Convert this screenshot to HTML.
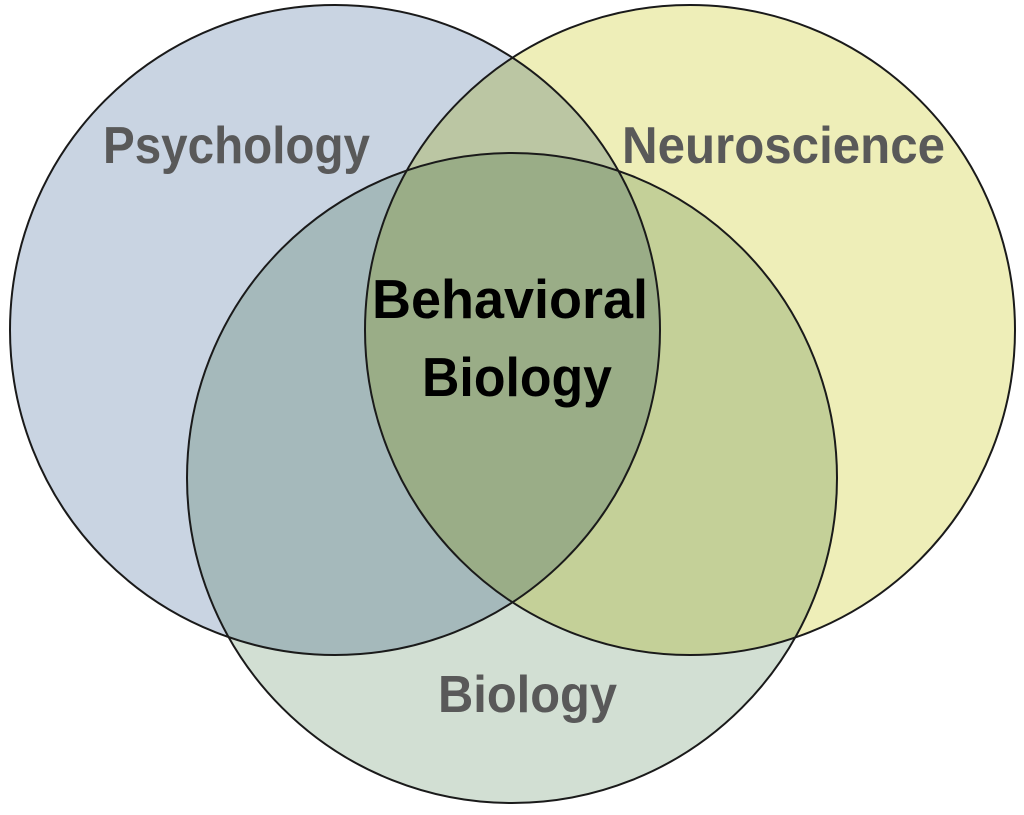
<!DOCTYPE html>
<html><head><meta charset="utf-8"><style>
html,body{margin:0;padding:0;background:#fff;}
svg{display:block;}
</style></head><body>
<svg width="1024" height="815" viewBox="0 0 1024 815" xmlns="http://www.w3.org/2000/svg">
<g style="isolation:isolate">
<circle cx="335" cy="330" r="325" fill="#c9d4e2" style="mix-blend-mode:multiply"/>
<circle cx="690" cy="330" r="325" fill="#eeeeb8" style="mix-blend-mode:multiply"/>
<circle cx="512" cy="478" r="325" fill="#d2dfd3" style="mix-blend-mode:multiply"/>
</g>
<g fill="none" stroke="#1a1a1a" stroke-width="2">
<circle cx="335" cy="330" r="325"/>
<circle cx="690" cy="330" r="325"/>
<circle cx="512" cy="478" r="325"/>
</g>
<g font-family="Liberation Sans, sans-serif" font-weight="bold" font-size="52">
<text x="103" y="163" fill="#595959" textLength="267" lengthAdjust="spacingAndGlyphs">Psychology</text>
<text x="622" y="163" fill="#595959" textLength="323" lengthAdjust="spacingAndGlyphs">Neuroscience</text>
<text x="438" y="712" fill="#595959" textLength="179" lengthAdjust="spacingAndGlyphs">Biology</text>
<text x="372" y="318" fill="#000" font-size="55" textLength="276" lengthAdjust="spacingAndGlyphs">Behavioral</text>
<text x="422" y="396" fill="#000" font-size="55" textLength="190" lengthAdjust="spacingAndGlyphs">Biology</text>
</g>
</svg>
</body></html>
